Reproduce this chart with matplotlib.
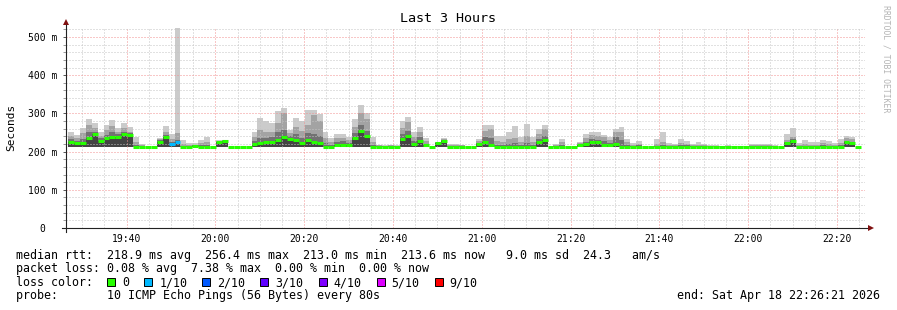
"""SmokePing style latency graph (Last 3 Hours) redrawn with matplotlib."""
import matplotlib

matplotlib.use("Agg")
import matplotlib.pyplot as plt
import numpy as np
from matplotlib.patches import Rectangle

W, H = 897, 310
MONO = "DejaVu Sans Mono"

# ---- data: one value per 80 s step, in ms --------------------------------
first_step = "19:26:48"
step_s = 80
end_time = "22:26:21"

med = [224, 222, 222, 236, 245, 228, 235, 237, 239, 245,
       244, 213, 213, 213, 213, 226, 237, 220, 225, 213,
       213, 215, 213, 213, 213, 224, 227, 213, 213, 213,
       213, 220, 222, 226, 226, 231, 237, 233, 231, 222,
       231, 226, 222, 213, 213, 217, 217, 216, 235, 255,
       242, 213, 213, 213, 213, 213, 232, 242, 220, 228,
       216, 212, 222, 228, 213, 213, 213, 213, 213, 219,
       224, 217, 213, 213, 213, 213, 213, 213, 213, 224,
       230, 213, 213, 213, 213, 213, 217, 219, 226, 225,
       217, 216, 219, 213, 213, 213, 213, 213, 213, 213,
       213, 213, 213, 213, 213, 213, 213, 213, 213, 213,
       213, 213, 213, 213, 213, 213, 213, 213, 213, 213,
       213, 222, 228, 213, 213, 213, 213, 213, 213, 213,
       213, 224, 222, 213]

hi = [252, 243, 262, 285, 274, 250, 270, 283, 261, 276,
      264, 239, 220, 213, 213, 236, 267, 246, 523, 230,
      222, 222, 230, 239, 213, 230, 230, 213, 213, 213,
      213, 252, 287, 279, 274, 305, 315, 257, 287, 279,
      309, 309, 298, 252, 235, 245, 245, 239, 285, 322,
      302, 239, 218, 217, 218, 216, 279, 291, 250, 265,
      235, 212, 226, 236, 220, 220, 218, 213, 213, 232,
      270, 270, 241, 241, 252, 267, 239, 272, 239, 258,
      270, 213, 221, 232, 213, 213, 226, 246, 252, 250,
      244, 239, 258, 265, 232, 222, 228, 213, 213, 233,
      251, 222, 220, 233, 228, 220, 225, 220, 216, 216,
      215, 216, 214, 214, 214, 220, 220, 221, 220, 218,
      213, 245, 261, 222, 231, 224, 224, 231, 228, 222,
      232, 242, 237, 213]

upper = [240, 236, 248, 270, 262, 242, 256, 266, 252, 262,
         252, 226, 216, 213, 213, 232, 252, 232, 248, 220,
         217, 218, 222, 226, 213, 228, 229, 213, 213, 213,
         213, 238, 257, 250, 252, 275, 300, 248, 265, 255,
         270, 296, 280, 235, 225, 235, 236, 230, 265, 300,
         285, 226, 216, 215, 216, 215, 262, 278, 238, 250,
         228, 212, 224, 233, 217, 217, 216, 213, 213, 227,
         255, 258, 228, 226, 232, 235, 226, 240, 225, 245,
         258, 213, 217, 224, 213, 213, 222, 236, 244, 240,
         238, 230, 252, 250, 225, 218, 220, 213, 213, 220,
         225, 216, 216, 222, 220, 216, 218, 216, 214, 214,
         214, 214, 213, 213, 213, 216, 216, 217, 216, 215,
         213, 229, 239, 216, 220, 218, 218, 222, 220, 217,
         222, 236, 232, 213]

inner = [232, 228, 234, 252, 252, 235, 244, 250, 245, 252,
         248, 218, 214, 213, 213, 229, 243, 225, 230, 215,
         214, 216, 217, 218, 213, 226, 228, 213, 213, 213,
         213, 228, 236, 236, 238, 250, 256, 240, 245, 235,
         248, 245, 240, 222, 218, 226, 228, 222, 248, 270,
         255, 218, 214, 214, 214, 214, 245, 255, 228, 238,
         221, 212, 223, 230, 215, 215, 214, 213, 213, 222,
         238, 235, 218, 218, 220, 222, 218, 222, 217, 232,
         240, 213, 215, 218, 213, 213, 219, 226, 232, 230,
         228, 222, 238, 230, 218, 215, 216, 213, 213, 215,
         217, 214, 214, 216, 216, 214, 215, 214, 213, 213,
         213, 213, 213, 213, 213, 214, 214, 214, 214, 214,
         213, 225, 232, 214, 215, 214, 214, 216, 215, 214,
         216, 228, 226, 213]

floor_rtt = 211
# steps that lost pings (index -> lost pings out of 10)
lost = {17: 1, 18: 1}

loss_labels = ["0", "1/10", "2/10", "3/10", "4/10", "5/10", "9/10"]
loss_colors = ["#26ff00", "#00b8ff", "#0059ff", "#5e00ff", "#7e00ff", "#dd00ff", "#ff0000"]

stats_rtt = "median rtt:  218.9 ms avg  256.4 ms max  213.0 ms min  213.6 ms now   9.0 ms sd  24.3   am/s"
stats_loss = "packet loss: 0.08 % avg  7.38 % max  0.00 % min  0.00 % now"
probe_line = "probe:       10 ICMP Echo Pings (56 Bytes) every 80s"
end_line = "end: Sat Apr 18 22:26:21 2026"

y_ticks = [0, 100, 200, 300, 400, 500]
x_tick_labels = ["19:40", "20:00", "20:20", "20:40", "21:00", "21:20", "21:40", "22:00", "22:20"]


def minutes(hms):
    h, m, s = (int(v) for v in hms.split(":"))
    return h * 60 + m + s / 60


# ---- figure ----------------------------------------------------------------
fig = plt.figure(figsize=(W / 100, H / 100), dpi=100)
fig.patch.set_facecolor("white")

px_per_min = 4.44
ax_w = 180 * px_per_min
ax = fig.add_axes([66 / W, 82 / H, ax_w / W, 201 / H])

t_end = minutes(end_time)
ax.set_xlim(t_end - 180, t_end)
ax.set_ylim(0, 526)

n = len(med)
edges = minutes(first_step) + np.arange(n + 1) * step_s / 60

ax.stairs(hi, edges, baseline=floor_rtt, fill=True, color="#cbcbcb", zorder=1)
ax.stairs(upper, edges, baseline=floor_rtt, fill=True, color="#a3a3a3", zorder=1.1)
ax.stairs(inner, edges, baseline=floor_rtt, fill=True, color="#727272", zorder=1.2)
ax.stairs(med, edges, baseline=floor_rtt, fill=True, color="#444444", zorder=1.3)

cols = [loss_colors[lost.get(i, 0)] for i in range(n)]
ax.hlines(med, edges[:-1], edges[1:], colors=cols, linewidth=2.2, zorder=3)

# grid
xt = [minutes(lbl + ":00") for lbl in x_tick_labels]
ax.set_xticks(xt)
ax.set_xticklabels(x_tick_labels)
ax.set_xticks(np.arange(1170, t_end, 5), minor=True)
ax.set_yticks(y_ticks)
ax.set_yticklabels(["0  " if v == 0 else f"{v} m" for v in y_ticks])
ax.set_yticks(np.arange(20, 526, 20), minor=True)

ax.grid(which="minor", color="#c4c4c4", linestyle=(0, (1, 2)), linewidth=0.72, zorder=4)
ax.grid(which="major", color="#f29090", linestyle=(0, (1, 2)), linewidth=0.72, zorder=4)
ax.set_axisbelow(False)

for s in ax.spines.values():
    s.set_visible(False)

ax.tick_params(axis="x", which="both", length=0, pad=4, labelsize=7, labelfontfamily=MONO)
ax.tick_params(axis="y", which="major", length=2, width=0.7, color="#555555", pad=4,
               labelsize=7, labelfontfamily=MONO)
ax.tick_params(axis="y", which="minor", length=2, width=0.7, color="#999999")
ax.set_facecolor("white")

# axes with arrows
ax.plot([-4 / ax_w, 1 + 3 / ax_w], [0, 0], color="#222222", lw=0.8,
        transform=ax.transAxes, clip_on=False, zorder=5)
ax.plot([0, 0], [-4 / 201, 1 + 2 / 201], color="#222222", lw=0.8,
        transform=ax.transAxes, clip_on=False, zorder=5)
ax.plot([1 + 6 / ax_w], [0], marker=">", ms=4, color="#801010", mew=0,
        transform=ax.transAxes, clip_on=False, zorder=6)
ax.plot([0], [1 + 5 / 201], marker="^", ms=4, color="#801010", mew=0,
        transform=ax.transAxes, clip_on=False, zorder=6)


def fx(x):
    return x / W


def fy(y):
    return 1 - y / H


fig.text(fx(448), fy(19), "Last 3 Hours", ha="center", va="center",
         fontsize=9.6, family=MONO)
fig.text(fx(11), fy(127), "Seconds", ha="center", va="center", rotation=90,
         fontsize=8, family=MONO)
fig.text(fx(886), fy(59), "RRDTOOL / TOBI OETIKER", ha="center", va="center",
         rotation=270, fontsize=5.9, family=MONO, color="#b4b4b4")

fs = 8.4
cw = 7.02
fig.text(fx(16), fy(255), stats_rtt, ha="left", va="center", fontsize=fs, family=MONO)
fig.text(fx(16), fy(268.5), stats_loss, ha="left", va="center", fontsize=fs, family=MONO)
fig.text(fx(16), fy(282.5), "loss color:", ha="left", va="center", fontsize=fs, family=MONO)
fig.text(fx(16), fy(296), probe_line, ha="left", va="center", fontsize=fs, family=MONO)
fig.text(fx(880), fy(296), end_line, ha="right", va="center", fontsize=fs, family=MONO)

x = 16 + 13 * cw
for lbl, col in zip(loss_labels, loss_colors):
    fig.add_artist(Rectangle((fx(x), fy(286)), 8 / W, 8 / H, transform=fig.transFigure,
                             facecolor=col, edgecolor="black", linewidth=0.7))
    fig.text(fx(x + 15), fy(282.5), lbl, ha="left", va="center", fontsize=fs, family=MONO)
    x += 15 + len(lbl) * cw + 15

fig.savefig("out.png", dpi=100, facecolor="white")
